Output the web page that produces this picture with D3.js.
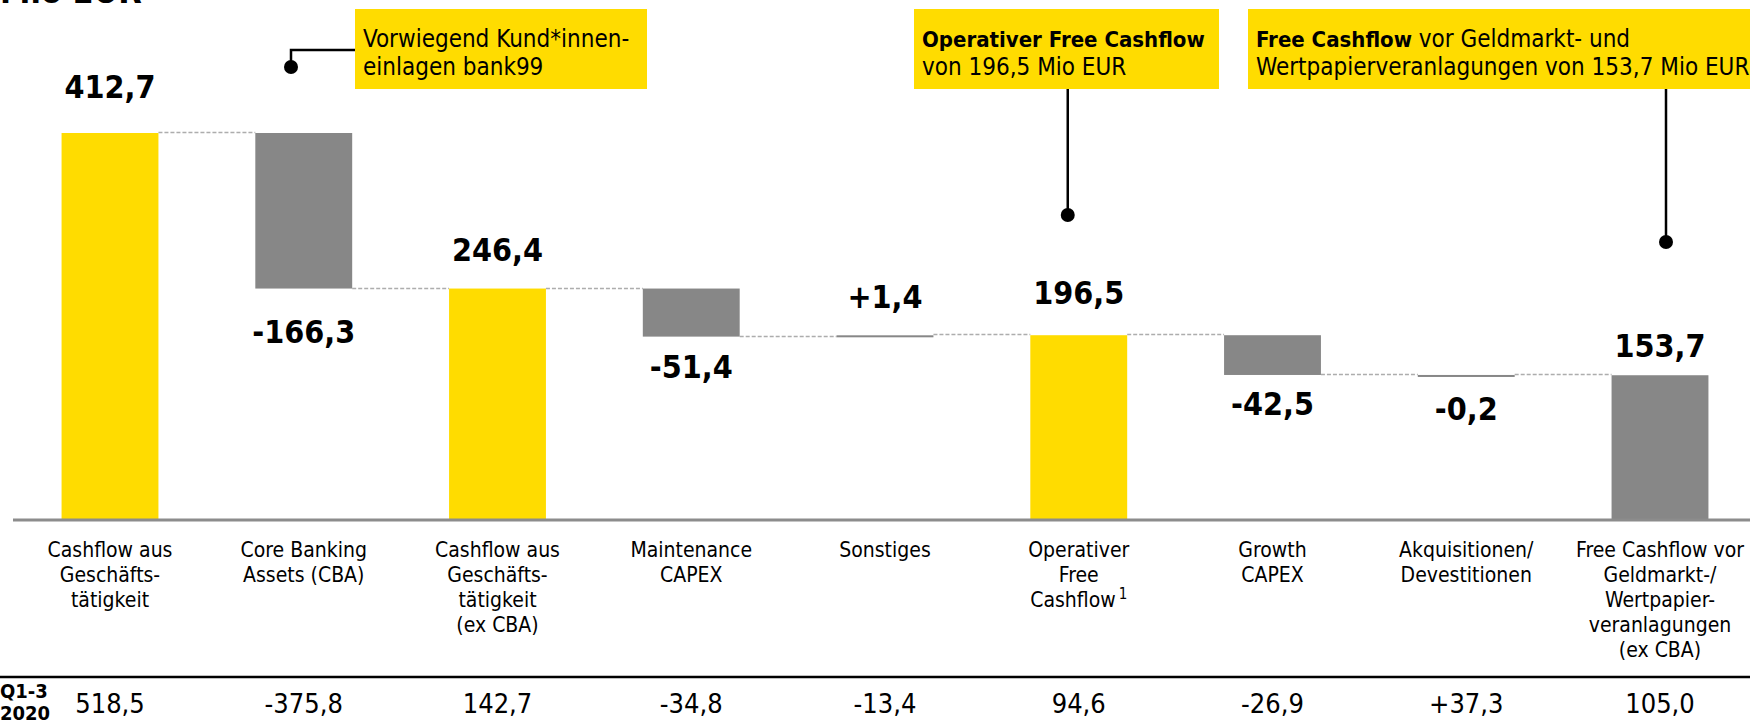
<!DOCTYPE html>
<html>
<head>
<meta charset="utf-8">
<script src="https://cdn.jsdelivr.net/npm/d3@7"></script>
<style>
  html, body { margin: 0; padding: 0; background: #fff; }
  svg { display: block; }
  text { font-family: "DejaVu Sans Condensed", "DejaVu Sans", sans-serif; font-stretch: condensed; fill: #000; }
</style>
</head>
<body>
<svg id="chart" width="1750" height="725"></svg>
<script>
// ---------- data ----------
const categories = [
  "Cashflow aus Geschäftstätigkeit",
  "Core Banking Assets (CBA)",
  "Cashflow aus Geschäftstätigkeit (ex CBA)",
  "Maintenance CAPEX",
  "Sonstiges",
  "Operativer Free Cashflow",
  "Growth CAPEX",
  "Akquisitionen/Devestitionen",
  "Free Cashflow vor Geldmarkt-/Wertpapierveranlagungen (ex CBA)"
];
const categoryLines = [
  ["Cashflow aus", "Geschäfts-", "tätigkeit"],
  ["Core Banking", "Assets (CBA)"],
  ["Cashflow aus", "Geschäfts-", "tätigkeit", "(ex CBA)"],
  ["Maintenance", "CAPEX"],
  ["Sonstiges"],
  ["Operativer", "Free", "Cashflow"],
  ["Growth", "CAPEX"],
  ["Akquisitionen/", "Devestitionen"],
  ["Free Cashflow vor", "Geldmarkt-/", "Wertpapier-", "veranlagungen", "(ex CBA)"]
];
const footnoteIndex = 5;           // "Cashflow¹"
const values2021 = [412.7, -166.3, 246.4, -51.4, 1.4, 196.5, -42.5, -0.2, 153.7];
const barTypes   = ["total", "delta", "total", "delta", "delta", "total", "delta", "delta", "final"];
const values2020 = [518.5, -375.8, 142.7, -34.8, -13.4, 94.6, -26.9, 37.3, 105.0];
const priorLabel = ["Q1-3", "2020"];
const unitLabel = "Mio EUR";
const callouts = [
  { lines: [[["Vorwiegend Kund*innen-", false]], [["einlagen bank99", false]]], target: 1 },
  { lines: [[["Operativer Free Cashflow", true]], [["von 196,5 Mio EUR", false]]], target: 5 },
  { lines: [[["Free Cashflow", true], [" vor Geldmarkt- und", false]], [["Wertpapierveranlagungen von 153,7 Mio EUR", false]]], target: 8 }
];

// ---------- layout (not data) ----------
const YELLOW = "#FFDC00", GREY = "#878787";
const labelGap = [35, 54, 28, 41, 27, 31, 40, 45, 18];
const calloutBoxes = [
  { x: 355, y: 9, w: 292, h: 80 },
  { x: 914, y: 9, w: 305, h: 80 },
  { x: 1248, y: 9, w: 510, h: 80 }
];

const svg = d3.select("#chart");
const locale = d3.formatLocale({ decimal: ",", thousands: ".", grouping: [3], currency: ["", "€"], minus: "-" });
const fmt = locale.format(".1f");
const fmtSigned = locale.format("+.1f");

const x = d3.scaleBand().domain(categories).range([13.125, 1756.875]).paddingInner(0.5).paddingOuter(0.25);
const y = d3.scaleLinear().domain([0, 412.7]).range([519, 133]);
const bw = x.bandwidth();

// compute waterfall geometry
let level = 0;
const bars = values2021.map((v, i) => {
  const t = barTypes[i];
  let start, end;
  if (t === "delta") { start = level; end = level + v; }
  else { start = 0; end = v; }
  level = end;
  return { i, v, t, start, end, cat: categories[i] };
});

// unit title (cut off at top, as in the reference)
svg.append("text").attr("x", 0).attr("y", 2.5)
  .style("font-size", "34px").style("font-weight", "bold").text(unitLabel);

// connector dashed lines
svg.append("g").selectAll("line").data(bars.slice(0, -1)).join("line")
  .attr("x1", d => x(d.cat) + bw)
  .attr("x2", d => x(categories[d.i + 1]))
  .attr("y1", d => Math.round(y(d.end)) - 0.5)
  .attr("y2", d => Math.round(y(d.end)) - 0.5)
  .attr("stroke", "#adadad").attr("stroke-width", 1.3).attr("stroke-dasharray", "4,2");

// bars
svg.append("g").selectAll("rect").data(bars).join("rect")
  .attr("x", d => x(d.cat))
  .attr("width", bw)
  .attr("y", d => Math.min(y(d.start), y(d.end)))
  .attr("height", d => Math.max(2, Math.abs(y(d.start) - y(d.end))))
  .attr("fill", d => d.t === "total" ? YELLOW : GREY);

// baseline
svg.append("line").attr("x1", 13).attr("x2", 1750).attr("y1", y(0) + 1).attr("y2", y(0) + 1)
  .attr("stroke", "#8c8c8c").attr("stroke-width", 3);

// value labels
svg.append("g").selectAll("text").data(bars).join("text")
  .attr("x", d => x(d.cat) + bw / 2)
  .attr("y", d => {
    if (d.t === "delta" && d.v < 0) return Math.max(y(d.start), y(d.end)) + labelGap[d.i];
    return Math.min(y(d.start), y(d.end)) - labelGap[d.i];
  })
  .attr("text-anchor", "middle")
  .style("font-size", "32px").style("font-weight", "bold")
  .text(d => d.t === "delta" && d.v > 0 ? fmtSigned(d.v) : fmt(d.v));

// category labels
const catG = svg.append("g").selectAll("text").data(categoryLines).join("text")
  .attr("text-anchor", "middle")
  .style("font-size", "21px");
catG.each(function(lines, i) {
  const t = d3.select(this);
  lines.forEach((ln, j) => {
    t.append("tspan").attr("x", x(categories[i]) + bw / 2).attr("y", 557 + j * 25).text(ln);
    if (i === footnoteIndex && j === lines.length - 1) {
      t.append("tspan").attr("dx", 3).attr("dy", -8).style("font-size", "15px").text("1");
    }
  });
});

// prior year row
svg.append("line").attr("x1", 0).attr("x2", 1750).attr("y1", 677).attr("y2", 677)
  .attr("stroke", "#000").attr("stroke-width", 2.5);
svg.append("g").selectAll("text").data(values2020).join("text")
  .attr("x", (d, i) => x(categories[i]) + bw / 2)
  .attr("y", 713)
  .attr("text-anchor", "middle")
  .style("font-size", "27px")
  .text((d, i) => barTypes[i] === "delta" && d > 0 ? fmtSigned(d) : fmt(d));
svg.append("g").selectAll("text").data(priorLabel).join("text")
  .attr("x", 0).attr("y", (d, i) => 698 + i * 22)
  .style("font-size", "20px").style("font-weight", "bold").text(d => d);

// callouts
callouts.forEach((c, k) => {
  const b = calloutBoxes[k];
  svg.append("rect").attr("x", b.x).attr("y", b.y).attr("width", b.w).attr("height", b.h).attr("fill", YELLOW);
  c.lines.forEach((ln, j) => {
    const t = svg.append("text").attr("x", b.x + 8).attr("y", b.y + 38 + j * 28);
    ln.forEach(([s, bold]) => t.append("tspan")
      .style("font-weight", bold ? "bold" : "normal")
      .style("font-size", bold ? "22px" : "24px")
      .text(s));
  });
  const tb = bars[c.target];
  const cx = x(tb.cat) + bw / 2;
  if (k === 0) {
    const lx = 291;
    svg.append("path").attr("d", `M${b.x},50 H${lx} V67`).attr("fill", "none").attr("stroke", "#000").attr("stroke-width", 2.5);
    svg.append("circle").attr("cx", lx).attr("cy", 67).attr("r", 7).attr("fill", "#000");
  } else {
    const lx = cx + (k === 1 ? -11 : 6);
    const dotY = k === 1 ? 215 : 242;
    svg.append("line").attr("x1", lx).attr("x2", lx).attr("y1", b.y + b.h).attr("y2", dotY)
      .attr("stroke", "#000").attr("stroke-width", 2.5);
    svg.append("circle").attr("cx", lx).attr("cy", dotY).attr("r", 7).attr("fill", "#000");
  }
});
</script>
</body>
</html>
